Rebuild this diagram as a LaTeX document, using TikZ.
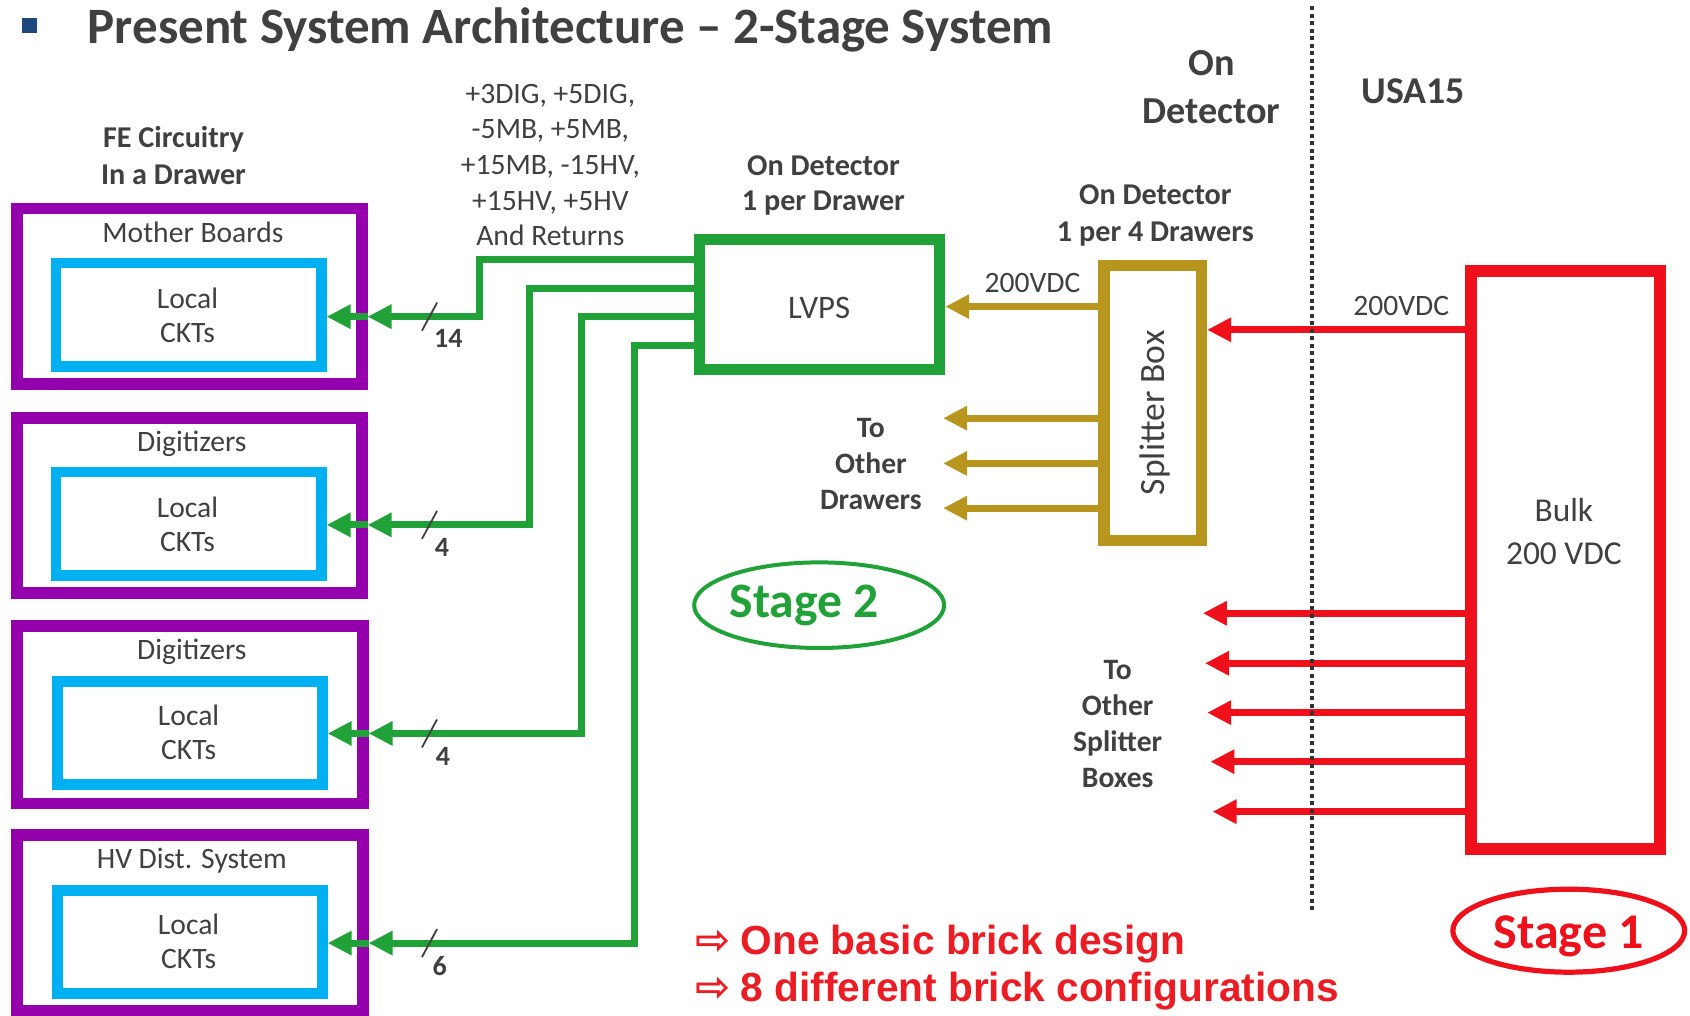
\documentclass[tikz,border=0pt]{standalone}
\usepackage{fontspec}
\setmainfont{Carlito}
\newfontfamily\arialfont{Liberation Sans}
\newfontfamily\symfont{DejaVu Sans}
\usetikzlibrary{arrows.meta,fit,shapes.geometric}

\definecolor{ink}{RGB}{64,64,64}
\definecolor{purp}{RGB}{148,0,172}
\definecolor{sky}{RGB}{0,176,240}
\definecolor{grn}{RGB}{32,162,56}
\definecolor{gold}{RGB}{184,150,30}
\definecolor{redc}{RGB}{238,16,26}
\definecolor{redtxt}{RGB}{236,28,36}
\definecolor{navy}{RGB}{31,73,125}
\definecolor{dots}{RGB}{50,50,50}

\newcommand\fsz[2]{\fontsize{#1}{#2}\selectfont}

\begin{document}
\begin{tikzpicture}[x=0.5389pt,y=-0.5389pt,
  txt/.style={text=ink, inner sep=0pt, align=center, font=\fsz{14.8pt}{17.2pt}},
  btxt/.style={text=ink, inner sep=0pt, align=center, font=\bfseries\fsz{15.1pt}{18.2pt}},
  purplebox/.style={draw=purp, line width=5.9pt, inner sep=0pt},
  skybox/.style={draw=sky, line width=5.4pt, inner sep=0pt},
  lvpsbox/.style={draw=grn, line width=5.7pt, inner sep=0pt},
  splitbox/.style={draw=gold, line width=5.7pt, inner sep=0pt},
  bulkbox/.style={draw=redc, line width=5.9pt, inner sep=0pt},
  tip/.style={-{Triangle[length=12pt,width=11.5pt]}},
  feed/.style={draw=grn, line width=3.5pt, tip},
  goldfeed/.style={draw=gold, line width=3.5pt, tip},
  redfeed/.style={draw=redc, line width=3.6pt, tip},
  buswidth/.style={draw=ink, line width=0.9pt},
  busnum/.style={text=ink, inner sep=0pt, font=\bfseries\fsz{14pt}{16pt}, anchor=base},
  border/.style={draw=dots, line width=2.1pt, dash pattern=on 2pt off 1.75pt},
  ring/.style={ellipse, draw, inner sep=0pt},
  redline/.style={text=redtxt, inner sep=0pt, anchor=base west,
    font=\arialfont\bfseries\fsz{20.3pt}{23pt}}
]
\useasboundingbox (0,0) rectangle (1568,942);

% ---------- heading ----------
\node[fill=navy, minimum size=7.5pt, inner sep=0pt] (bullet) at (27,24) {};
\node[text=ink, inner sep=0pt, anchor=base west, font=\bfseries\fsz{25.5pt}{30pt}]
  (title) at (81,40.2) {Present System Architecture -- 2-Stage System};

% ---------- drawer boards ----------
\node[btxt] (fe) at (161,144.4) {FE Circuitry\\In a Drawer};

\node[purplebox, fit={(15.5,193.5)(335.5,356.5)}] (mb) {};
\node[skybox, fit={(52,244)(298,340)}] (mbckt) {};
\node[txt, anchor=base] (mbname) at (179,225) {Mother Boards};
\node[txt] (mbtxt) at (174,292.4) {Local\\CKTs};

\node[purplebox, fit={(15.5,387.5)(335.5,550.5)}] (dga) {};
\node[skybox, fit={(52,438)(298,534)}] (dgackt) {};
\node[txt, anchor=base] (dganame) at (178,419) {Digitizers};
\node[txt] (dgatxt) at (174,486.4) {Local\\CKTs};

\node[purplebox, fit={(15.5,580.5)(336.5,745.5)}] (dgb) {};
\node[skybox, fit={(53,632)(299,728)}] (dgbckt) {};
\node[txt, anchor=base] (dgbname) at (178,612) {Digitizers};
\node[txt] (dgbtxt) at (175,679.4) {Local\\CKTs};

\node[purplebox, fit={(15.5,774.5)(336.5,937.5)}] (hv) {};
\node[skybox, fit={(53,826)(299,922)}] (hvckt) {};
\node[txt, anchor=base] (hvname) at (178,806) {HV Dist. System};
\node[txt] (hvtxt) at (175,873.4) {Local\\CKTs};

% ---------- stage 2: LVPS and splitter ----------
\node[txt, font=\fsz{14.8pt}{17.85pt}] (rails) at (510.6,153.1)
  {+3DIG, +5DIG,\\-5MB, +5MB,\\+15MB, -15HV,\\+15HV, +5HV\\And Returns};
\node[btxt, font=\bfseries\fsz{15.1pt}{17.2pt}] (lvpsnote) at (764,172) {On Detector\\1 per Drawer};
\node[lvpsbox, fit={(648.8,222.3)(871.7,342.7)}] (lvps) {};
\node[txt, anchor=base, font=\fsz{16.4pt}{19pt}] (lvpstxt) at (760,295.8) {LVPS};

\node[btxt] (splitnote) at (1072,199.8) {On Detector\\1 per 4 Drawers};
\node[splitbox, fit={(1024.3,246.3)(1114.7,501.7)}] (split) {};
\node[txt, rotate=90, font=\fsz{17.8pt}{20pt}] (splittxt) at (1072,383) {Splitter Box};

\node[btxt, font=\bfseries\fsz{19.1pt}{23.7pt}] (ondet) at (1124,81) {On\\Detector};
\node[text=ink, inner sep=0pt, anchor=base, font=\bfseries\fsz{18.9pt}{22pt}] (usa) at (1311,96) {USA15};

% ---------- stage 1: bulk supply ----------
\node[bulkbox, fit={(1364.5,251.5)(1540.5,787.5)}] (bulk) {};
\node[txt, font=\fsz{16.7pt}{21.6pt}] (bulktxt) at (1451,493) {Bulk\\200 VDC};

% ---------- LVPS outputs to the drawer boards ----------
\draw[feed] (lvps.west |- 0,240.6) -| (445,293.8) -- (mb.east |- 0,293.8);
\draw[feed] (mb.east |- 0,293.8) -- (mbckt.east |- 0,293.8);
\draw[feed] (lvps.west |- 0,267.5) -| (491,487) -- (dga.east |- 0,487);
\draw[feed] (dga.east |- 0,487) -- (dgackt.east |- 0,487);
\draw[feed] (lvps.west |- 0,293.8) -| (539.5,680.5) -- (dgb.east |- 0,680.5);
\draw[feed] (dgb.east |- 0,680.5) -- (dgbckt.east |- 0,680.5);
\draw[feed] (lvps.west |- 0,320.1) -| (589,875) -- (hv.east |- 0,875);
\draw[feed] (hv.east |- 0,875) -- (hvckt.east |- 0,875);

% bus widths
\draw[buswidth] (391.5,306.8) -- (405.5,280.8);
\draw[buswidth] (391.5,500) -- (405.5,474);
\draw[buswidth] (391.5,693.5) -- (405.5,667.5);
\draw[buswidth] (391.5,888) -- (405.5,862);
\node[busnum] (n14) at (416,322.1) {14};
\node[busnum] (n4a) at (410,516.4) {4};
\node[busnum] (n4b) at (411,710.4) {4};
\node[busnum] (n6) at (408,905.4) {6};

% ---------- splitter outputs ----------
\coordinate (dr1) at (875,388);
\coordinate (dr2) at (875,430);
\coordinate (dr3) at (875,471.5);
\draw[goldfeed] (split.west |- 0,284.5) -- (lvps.east |- 0,284.5);
\draw[goldfeed] (split.west |- dr1) -- (dr1);
\draw[goldfeed] (split.west |- dr2) -- (dr2);
\draw[goldfeed] (split.west |- dr3) -- (dr3);
\node[txt, anchor=base] (vdcgold) at (958,271.5) {200VDC};
\node[btxt, font=\bfseries\fsz{14.8pt}{18.05pt}] (otherdr) at (808,430.3) {To\\Other\\Drawers};

% ---------- bulk outputs ----------
\coordinate (sb1) at (1116,569);
\coordinate (sb2) at (1118,615.4);
\coordinate (sb3) at (1120,661.2);
\coordinate (sb4) at (1123,706.7);
\coordinate (sb5) at (1125,753.1);
\draw[redfeed] (bulk.west |- 0,306) -- (split.east |- 0,306);
\foreach \c in {sb1,sb2,sb3,sb4,sb5}
  \draw[redfeed] (bulk.west |- \c) -- (\c);
\node[txt, anchor=base] (vdcred) at (1300,292.3) {200VDC};
\node[btxt, font=\bfseries\fsz{14.8pt}{17.95pt}] (othersb) at (1037,672) {To\\Other\\Splitter\\Boxes};

% ---------- boundary between detector and USA15 ----------
\coordinate (bdtop) at (1217,6);
\coordinate (bdbot) at (1217,845);
\draw[border] (bdtop) -- (bdbot);

% ---------- stage tags ----------
\node[ring, draw=grn, line width=2pt, minimum width=125pt, minimum height=42.8pt] (ring2) at (760,561.5) {};
\node[text=grn, inner sep=0pt, anchor=base, font=\bfseries\fsz{24.8pt}{28pt}] (stage2) at (746,572.6) {Stage 2};
\node[ring, draw=redc, line width=2.6pt, minimum width=115.9pt, minimum height=41.5pt] (ring1) at (1455.5,863.5) {};
\node[text=redc, inner sep=0pt, anchor=base, font=\bfseries\fsz{25pt}{28pt}] (stage1) at (1455.5,879.6) {Stage 1};

% ---------- remarks ----------
\node[redline] (brick1) at (645,886)
  {{\symfont\fsz{21pt}{23pt}\symbol{"21E8}}\hspace{5pt}One basic brick design};
\node[redline] (brick2) at (645,929.4)
  {{\symfont\fsz{21pt}{23pt}\symbol{"21E8}}\hspace{5pt}8 different brick configurations};
\end{tikzpicture}
\end{document}
